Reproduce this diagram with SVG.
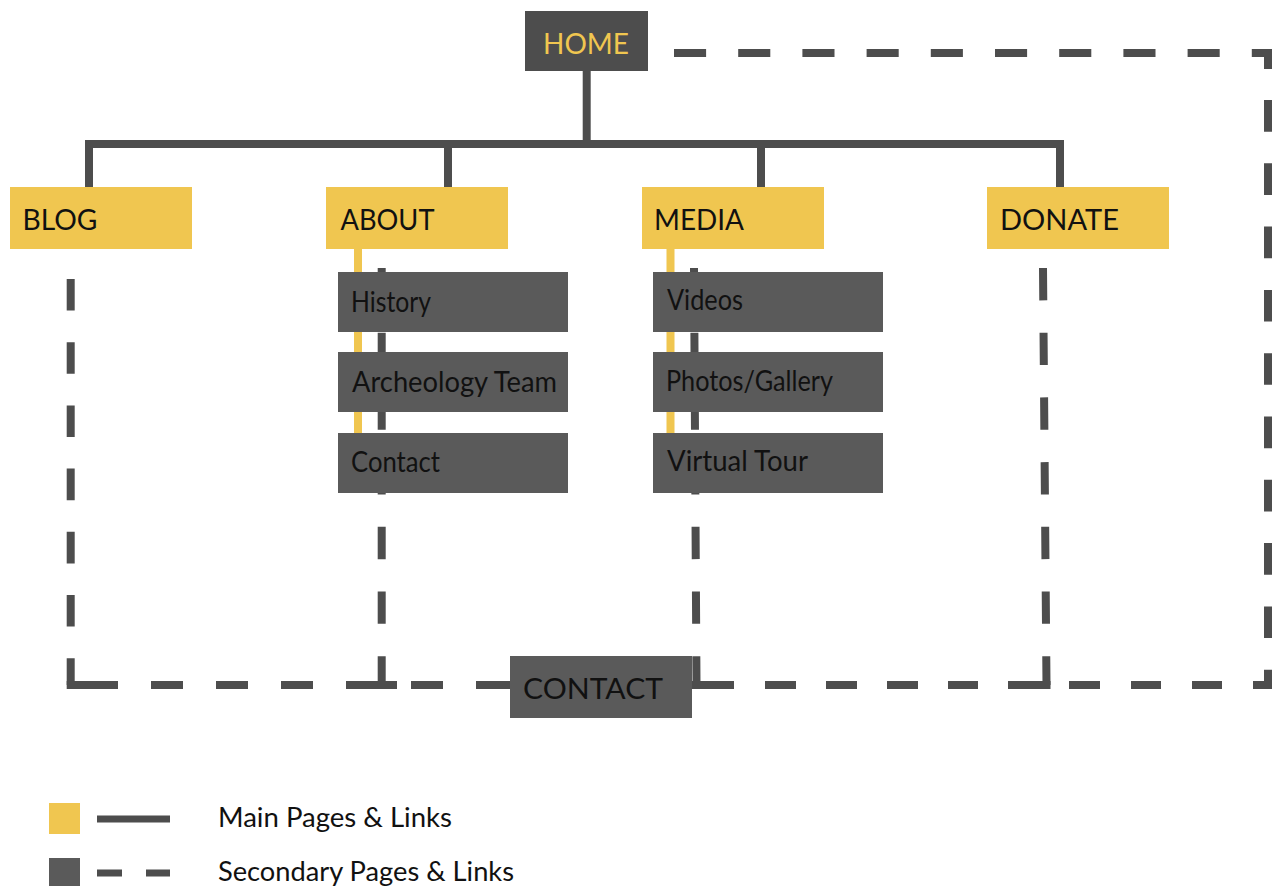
<svg xmlns="http://www.w3.org/2000/svg" width="1276" height="886" viewBox="0 0 1276 886">
<style>
.bg{fill:#ffffff}
.main{fill:#f0c650}
.dark{fill:#4d4d4d}
.sub{fill:#5a5a5a}
.t{font-family:Lato,"Liberation Sans",sans-serif;font-size:28px;font-weight:400;fill:#111111}
.th{font-family:Lato,"Liberation Sans",sans-serif;font-size:28px;font-weight:400;fill:#f0c650}
.solid{fill:none;stroke:#4d4d4d;stroke-width:8;stroke-linejoin:miter}
.dash{fill:none;stroke:#4d4d4d;stroke-width:8}
.ylink{fill:none;stroke:#f0c650;stroke-width:8}
.lt{font-family:Lato,"Liberation Sans",sans-serif;font-size:27px;font-weight:400;fill:#111111}
</style>
<rect class="bg" x="0" y="0" width="1276" height="886"/>
<g id="connectors">
  <path class="solid" d="M586.7,71 V148"/>
  <path class="solid" d="M89,187 V144 H1060 V187"/>
  <path class="solid" d="M448,144 V187"/>
  <path class="solid" d="M761,144 V187"/>
  <path class="ylink" d="M358,249 V433"/>
  <path class="ylink" d="M670.5,249 V433"/>
  <path class="dash" d="M674,53 H1268 V69" stroke-dasharray="32.1 32.1"/>
  <path class="dash" d="M1268,100 V685 H1253" stroke-dasharray="31.65 31.65"/>
  <path class="dash" d="M70.7,279 V685" stroke-dasharray="31.6 31.6"/>
  <path class="dash" d="M381.7,268 V685" stroke-dasharray="32.35 32.35"/>
  <path class="dash" d="M694,268 L696.5,685" stroke-dasharray="32.35 32.35"/>
  <path class="dash" d="M1043,268 L1046.5,685" stroke-dasharray="32.35 32.35"/>
  <path class="solid" d="M66.7,685 H118 M151,685 H183 M216,685 H248 M281,685 H313 M346,685 H397 M411,685 H443 M476,685 H510"/>
  <path class="solid" d="M692,685 H734 M765,685 H796 M826,685 H857 M887,685 H918 M948,685 H978 M1008,685 H1050.5 M1069,685 H1100 M1131,685 H1161 M1192,685 H1222"/>
</g>
<g id="home">
  <rect class="dark" x="525" y="11" width="123" height="60"/>
  <text class="th" x="543" y="54" textLength="86" lengthAdjust="spacingAndGlyphs">HOME</text>
</g>
<g id="blog">
  <rect class="main" x="10" y="187" width="182" height="62"/>
  <text class="t" x="22.5" y="230" textLength="75" lengthAdjust="spacingAndGlyphs">BLOG</text>
</g>
<g id="about">
  <rect class="main" x="326" y="187" width="182" height="62"/>
  <text class="t" x="340.5" y="230" textLength="94" lengthAdjust="spacingAndGlyphs">ABOUT</text>
</g>
<g id="media">
  <rect class="main" x="642" y="187" width="182" height="62"/>
  <text class="t" x="654" y="230" textLength="90" lengthAdjust="spacingAndGlyphs">MEDIA</text>
</g>
<g id="donate">
  <rect class="main" x="987" y="187" width="182" height="62"/>
  <text class="t" x="1000" y="230" textLength="119" lengthAdjust="spacingAndGlyphs">DONATE</text>
</g>
<g id="history">
  <rect class="sub" x="338" y="272" width="230" height="60"/>
  <text class="t" x="351" y="312" textLength="80" lengthAdjust="spacingAndGlyphs">History</text>
</g>
<g id="archeology-team">
  <rect class="sub" x="338" y="352" width="230" height="60"/>
  <text class="t" x="352" y="392" textLength="205" lengthAdjust="spacingAndGlyphs">Archeology Team</text>
</g>
<g id="about-contact">
  <rect class="sub" x="338" y="433" width="230" height="60"/>
  <text class="t" x="351" y="472" textLength="89" lengthAdjust="spacingAndGlyphs">Contact</text>
</g>
<g id="videos">
  <rect class="sub" x="653" y="272" width="230" height="60"/>
  <text class="t" x="667" y="310" textLength="76" lengthAdjust="spacingAndGlyphs">Videos</text>
</g>
<g id="photos-gallery">
  <rect class="sub" x="653" y="352" width="230" height="60"/>
  <text class="t" x="666" y="391" textLength="167" lengthAdjust="spacingAndGlyphs">Photos/Gallery</text>
</g>
<g id="virtual-tour">
  <rect class="sub" x="653" y="433" width="230" height="60"/>
  <text class="t" x="667" y="471" textLength="141" lengthAdjust="spacingAndGlyphs">Virtual Tour</text>
</g>
<g id="contact">
  <rect class="sub" x="510" y="656" width="182" height="62"/>
  <text class="t" x="523" y="699" textLength="140" lengthAdjust="spacingAndGlyphs">CONTACT</text>
</g>
<g id="legend">
  <rect class="main" x="49" y="803" width="31" height="31"/>
  <path class="solid" d="M97,819 H170" style="stroke-width:7"/>
  <text class="lt" x="218" y="827" textLength="234" lengthAdjust="spacingAndGlyphs">Main Pages &amp; Links</text>
  <rect class="sub" x="49" y="858" width="31" height="31"/>
  <path class="solid" d="M97,873 H122 M146,873 H170" style="stroke-width:7"/>
  <text class="lt" x="218" y="881" textLength="296" lengthAdjust="spacingAndGlyphs">Secondary Pages &amp; Links</text>
</g>
</svg>
